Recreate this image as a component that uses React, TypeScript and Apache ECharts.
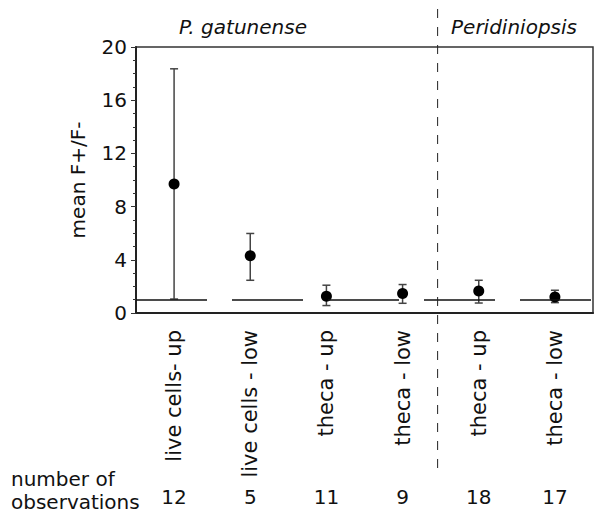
import React, { useEffect, useRef } from "react";
import * as echarts from "echarts";

const categories = ["live cells- up", "live cells - low", "theca - up", "theca - low", "theca - up", "theca - low"];
const means = [9.7, 4.3, 1.26, 1.46, 1.66, 1.21];
const lowerErr = [1.05, 2.46, 0.56, 0.73, 0.75, 0.78];
const upperErr = [18.36, 5.98, 2.09, 2.14, 2.46, 1.71];
const observations = ["12", "5", "11", "9", "18", "17"];
const referenceValue = 1;
const groupTitles = ["P. gatunense", "Peridiniopsis"];

const FONT = "DejaVu Sans";

export default function App() {
  const ref = useRef<HTMLDivElement>(null);
  useEffect(() => {
    const chart = echarts.init(ref.current!, null, { renderer: "svg" });
    const option: any = {
      animation: false,
      textStyle: { fontFamily: FONT },
      grid: {
        left: 136,
        right: 2,
        top: 47,
        bottom: 200,
        show: true,
        borderColor: "#333",
        borderWidth: 1.5,
        backgroundColor: "transparent",
      },
      xAxis: [
        {
          type: "category",
          data: categories,
          axisLine: { lineStyle: { color: "#222", width: 2 } },
          axisTick: { alignWithLabel: true, length: 5, lineStyle: { color: "#333", width: 1 } },
          axisLabel: { rotate: 90, margin: 17, fontSize: 21, color: "#111", fontFamily: FONT, interval: 0 },
          splitLine: { show: false },
        },
        {
          type: "category",
          data: observations,
          position: "bottom",
          offset: 166,
          axisLine: { show: false },
          axisTick: { show: false },
          axisLabel: { margin: 8, fontSize: 20, color: "#111", fontFamily: FONT, interval: 0 },
          splitLine: { show: false },
        },
      ],
      yAxis: {
        type: "value",
        min: 0,
        max: 20,
        interval: 4,
        name: "mean F+/F-",
        nameLocation: "middle",
        nameGap: 48,
        nameTextStyle: { fontSize: 20, color: "#111", fontFamily: FONT },
        axisLine: { show: true, lineStyle: { color: "#222", width: 2 } },
        axisTick: { show: true, length: 5, lineStyle: { color: "#333", width: 1 } },
        minorTick: { show: true, splitNumber: 4, length: 3, lineStyle: { color: "#333", width: 1 } },
        axisLabel: { fontSize: 20, margin: 9, color: "#111", fontFamily: FONT },
        splitLine: { show: false },
      },
      series: [
        {
          type: "custom",
          xAxisIndex: 0,
          data: categories.map((_, i) => [i, lowerErr[i], upperErr[i]]),
          renderItem: (params: any, api: any) => {
            const i = api.value(0);
            const lo = api.coord([i, api.value(1)]);
            const hi = api.coord([i, api.value(2)]);
            const cw = 4;
            const style = { stroke: "#444", lineWidth: 1.5 };
            return {
              type: "group",
              children: [
                { type: "line", shape: { x1: lo[0], y1: lo[1], x2: hi[0], y2: hi[1] }, style },
                { type: "line", shape: { x1: lo[0] - cw, y1: lo[1], x2: lo[0] + cw, y2: lo[1] }, style },
                { type: "line", shape: { x1: hi[0] - cw, y1: hi[1], x2: hi[0] + cw, y2: hi[1] }, style },
              ],
            };
          },
          z: 2,
        },
        {
          type: "scatter",
          xAxisIndex: 0,
          data: means,
          symbol: "circle",
          symbolSize: 11,
          itemStyle: { color: "#000", opacity: 1 },
          z: 3,
          markLine: {
            silent: true,
            symbol: "none",
            label: { show: false },
            lineStyle: { color: "#111", width: 1.5, type: [71, 25] },
            data: [{ yAxis: referenceValue }],
          },
        },
      ],
    };
    chart.setOption(option);

    const p3 = chart.convertToPixel({ xAxisIndex: 0 }, 3) as number;
    const p4 = chart.convertToPixel({ xAxisIndex: 0 }, 4) as number;
    const sepX = p3 + (p4 - p3) * 0.46;

    chart.setOption({
      graphic: [
        {
          type: "line",
          shape: { x1: sepX, y1: 9, x2: sepX, y2: 474 },
          style: { stroke: "#222", lineWidth: 1, lineDash: [9, 9] },
          z: 10,
        },
        {
          type: "text",
          x: 243,
          y: 27,
          style: {
            text: groupTitles[0],
            fontSize: 20,
            fontStyle: "italic",
            fontFamily: FONT,
            fill: "#111",
            textAlign: "center",
            textVerticalAlign: "middle",
          },
        },
        {
          type: "text",
          x: 514,
          y: 27,
          style: {
            text: groupTitles[1],
            fontSize: 20,
            fontStyle: "italic",
            fontFamily: FONT,
            fill: "#111",
            textAlign: "center",
            textVerticalAlign: "middle",
          },
        },
        {
          type: "text",
          x: 11,
          y: 467,
          style: {
            text: "number of\nobservations",
            fontSize: 20,
            lineHeight: 23,
            fontFamily: FONT,
            fill: "#111",
            textAlign: "left",
            textVerticalAlign: "top",
          },
        },
      ],
    });

    return () => chart.dispose();
  }, []);
  return <div ref={ref} style={{ width: 595, height: 513, position: "absolute", left: 0, top: 0 }} />;
}
